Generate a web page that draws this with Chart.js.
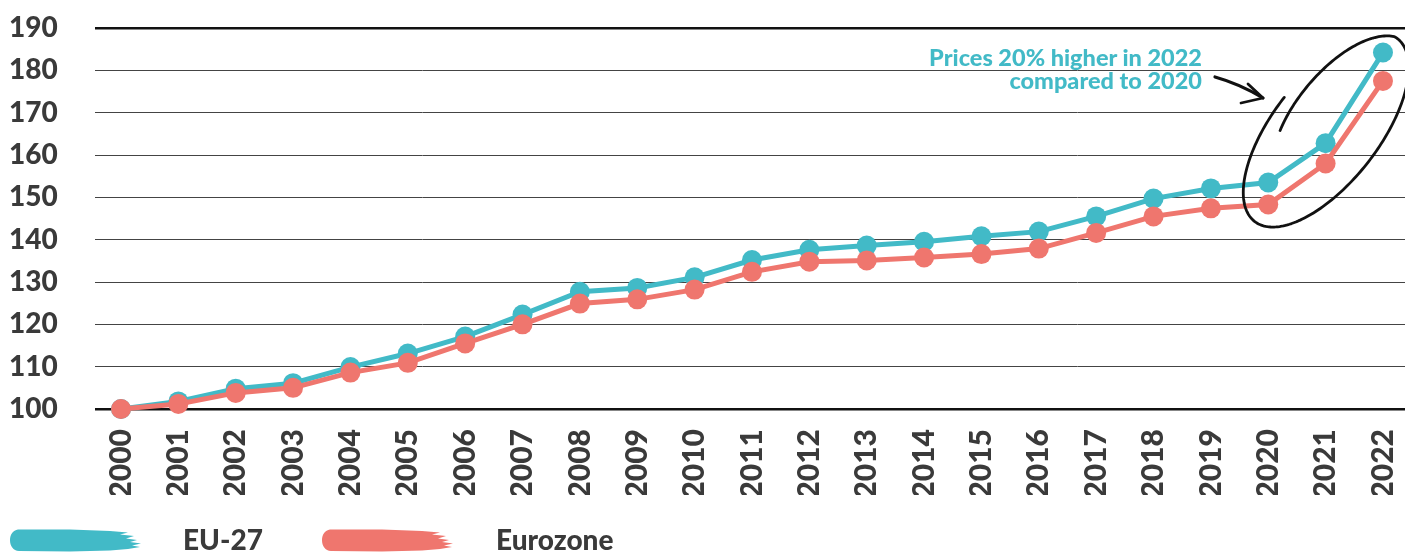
<!DOCTYPE html>
<html>
<head>
<meta charset="utf-8">
<script src="https://cdn.jsdelivr.net/npm/chart.js@4.4.1/dist/chart.umd.min.js"></script>
<style>
  html, body { margin: 0; padding: 0; background: #ffffff; }
  #wrap { position: relative; width: 1405px; height: 553px; overflow: hidden; }
  #c { position: absolute; left: 0; top: 0; }
  .note {
    position: absolute; right: 203px; top: 46px; text-align: right;
    font-family: Lato, sans-serif; font-weight: 900; font-size: 23.5px; line-height: 23px;
    color: #42bac7; white-space: nowrap;
  }
  .leg { position: absolute; top: 522px; font-family: Lato, sans-serif; font-weight: 900;
    font-size: 28px; color: #3a3a3a; white-space: nowrap; }
  .brush { position: absolute; top: 528px; width: 131px; height: 24px; }
</style>
</head>
<body>
<div id="wrap">
  <canvas id="c" width="1405" height="553"></canvas>
  <div class="note">Prices 20% higher in 2022<br>compared to 2020</div>
  <svg class="brush" style="left:10px" viewBox="0 0 131 24"><path d="M8,1.5 C3,2 0,7 0,12 C0,18 3,22.5 9,23 L60,23.5 L100,22.5 L118,21 L130,19 L122,17.5 L131,15.5 L120,14 L127,12 L116,10.5 L124,8 L110,6.5 L118,4.5 L100,3 L60,1.5 Z" fill="#42bac7"/></svg>
  <div class="leg" style="left:183px">EU-27</div>
  <svg class="brush" style="left:322px" viewBox="0 0 131 24"><path d="M8,1.5 C3,2 0,7 0,12 C0,18 3,22.5 9,23 L60,23.5 L100,22.5 L118,21 L130,19 L122,17.5 L131,15.5 L120,14 L127,12 L116,10.5 L124,8 L110,6.5 L118,4.5 L100,3 L60,1.5 Z" fill="#ef766e"/></svg>
  <div class="leg" style="left:496px">Eurozone</div>
</div>
<script>
const years = ['2000','2001','2002','2003','2004','2005','2006','2007','2008','2009','2010',
  '2011','2012','2013','2014','2015','2016','2017','2018','2019','2020','2021','2022'];
const eu27 = [100, 101.8, 104.8, 106.1, 109.9, 113.1, 117.1, 122.3, 127.7, 128.6, 131.1,
  135.2, 137.6, 138.6, 139.5, 140.8, 141.9, 145.5, 149.7, 152.1, 153.5, 162.8, 184.2];
const eurozone = [100, 101.2, 103.8, 105.0, 108.6, 110.9, 115.5, 120.0, 124.9, 125.9, 128.2,
  132.4, 134.8, 135.1, 135.8, 136.6, 137.9, 141.6, 145.5, 147.4, 148.3, 158.0, 177.5];
const yTicks = [100, 110, 120, 130, 140, 150, 160, 170, 180, 190];

const TEAL = '#42bac7';
const RED = '#ef766e';
const INK = '#3a3a3a';

function pts(arr) { return arr.map((v, i) => ({ x: Number(years[i]), y: v })); }

const annotationPlugin = {
  id: 'handDrawn',
  afterDraw(chart) {
    const ctx = chart.ctx;
    ctx.save();
    ctx.strokeStyle = '#111111';
    ctx.lineCap = 'round';
    ctx.lineJoin = 'round';
    // arrow
    ctx.lineWidth = 3.2;
    ctx.beginPath();
    ctx.moveTo(1215, 77);
    ctx.quadraticCurveTo(1240, 84, 1263, 98);
    ctx.stroke();
    ctx.lineWidth = 2.8;
    ctx.beginPath();
    ctx.moveTo(1241, 103);
    ctx.lineTo(1263, 98);
    ctx.lineTo(1248, 84);
    ctx.stroke();
    // loose hand-drawn ellipse
    const cx = 1326, cy = 130, a = 116, b = 53, th = -52 * Math.PI / 180;
    const ux = Math.cos(th), uy = Math.sin(th), vx = -uy, vy = ux;
    const t0 = -Math.PI / 2, span = 2 * Math.PI + 0.35, n = 240;
    ctx.lineWidth = 2.8;
    ctx.beginPath();
    for (let k = 0; k <= n; k++) {
      const p = k / n;
      const t = t0 - span * p;
      const s = p < 0.72 ? 1 : 1 - 0.28 * ((p - 0.72) / 0.28);
      const cu = s * a * Math.cos(t), cv = s * b * Math.sin(t);
      const x = cx + cu * ux + cv * vx, y = cy + cu * uy + cv * vy;
      if (k === 0) ctx.moveTo(x, y); else ctx.lineTo(x, y);
    }
    ctx.stroke();
    ctx.restore();
  }
};

new Chart(document.getElementById('c'), {
  type: 'line',
  data: {
    datasets: [
      { label: 'EU-27', data: pts(eu27), borderColor: TEAL, backgroundColor: TEAL,
        pointBackgroundColor: TEAL, pointBorderWidth: 0, pointRadius: 10, borderWidth: 5,
        tension: 0, order: 1, clip: false },
      { label: 'Eurozone', data: pts(eurozone), borderColor: RED, backgroundColor: RED,
        pointBackgroundColor: RED, pointBorderWidth: 0, pointRadius: 10, borderWidth: 5,
        tension: 0, order: 0, clip: false }
    ]
  },
  options: {
    responsive: false,
    animation: false,
    devicePixelRatio: 1,
    layout: { autoPadding: false, padding: { left: 9, top: 28, right: 0, bottom: 58 } },
    plugins: { legend: { display: false }, tooltip: { enabled: false } },
    scales: {
      x: {
        type: 'linear',
        min: 1999.547, max: 2022.384,
        afterBuildTicks: (s) => { s.ticks = years.map(y => ({ value: Number(y) })); },
        afterFit: (s) => { s.height = 86; s.paddingLeft = 0; s.paddingRight = 0; },
        grid: { display: false },
        border: { display: false },
        ticks: {
          autoSkip: false, minRotation: 90, maxRotation: 90, padding: 12,
          color: INK, font: { family: 'Lato', weight: 900, size: 30 },
          callback: (v) => String(v)
        }
      },
      y: {
        min: 100, max: 190,
        afterBuildTicks: (s) => { s.ticks = yTicks.map(v => ({ value: v })); },
        afterFit: (s) => { s.width = 86; },
        border: { display: false },
        grid: {
          drawTicks: false,
          color: (c) => (c.tick && (c.tick.value === 190 || c.tick.value === 100)) ? '#111111' : '#444444',
          lineWidth: (c) => (c.tick && (c.tick.value === 190 || c.tick.value === 100)) ? 2.5 : 1
        },
        ticks: {
          crossAlign: 'far', padding: 0,
          color: INK, font: { family: 'Lato', weight: 900, size: 28 },
          callback: (v) => String(v)
        }
      }
    }
  },
  plugins: [annotationPlugin]
});
</script>
</body>
</html>
